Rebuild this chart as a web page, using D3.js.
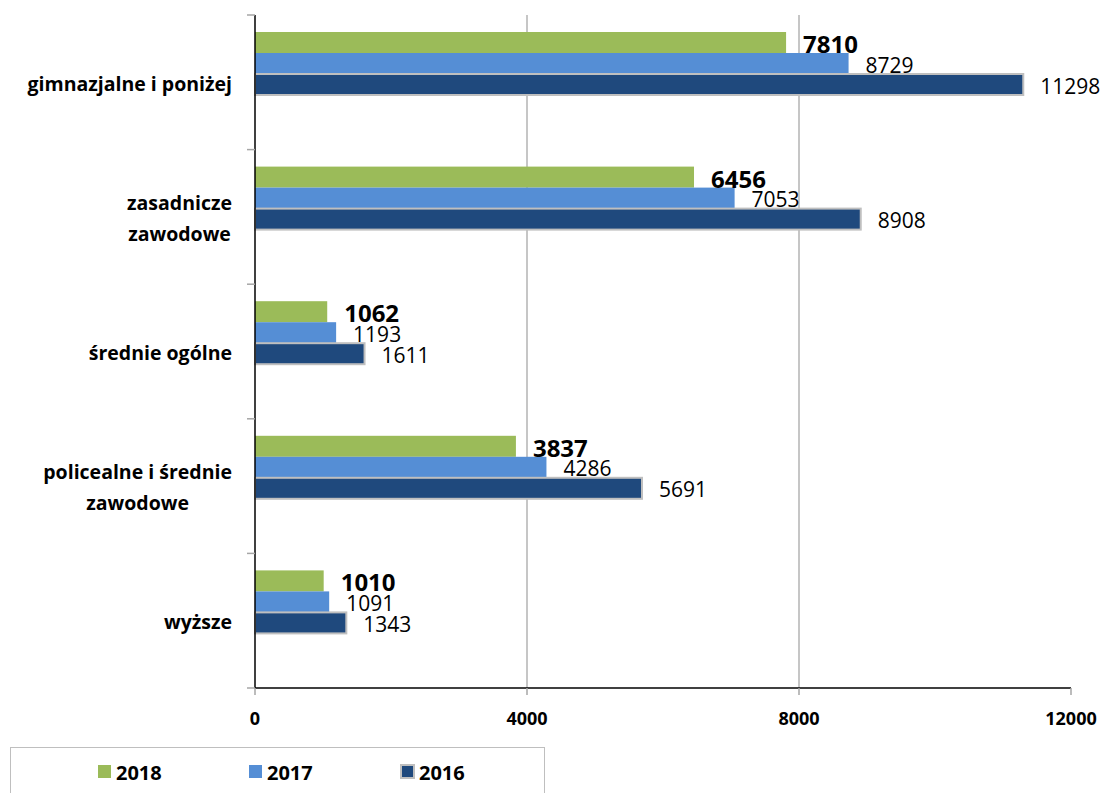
<!DOCTYPE html>
<html><head><meta charset="utf-8">
<script src="https://cdn.jsdelivr.net/npm/d3@7"></script>
<style>
body{margin:0;background:#fff;}
text{font-family:"Open Sans", sans-serif;}
</style></head>
<body>
<svg id="chart" width="1102" height="793"></svg>
<script>
const categories = [["gimnazjalne i poniżej"],["zasadnicze","zawodowe"],["średnie ogólne"],["policealne i średnie","zawodowe"],["wyższe"]];
const seriesNames = ["2018","2017","2016"];
const v2018 = [7810, 6456, 1062, 3837, 1010];
const v2017 = [8729, 7053, 1193, 4286, 1091];
const v2016 = [11298, 8908, 1611, 5691, 1343];
const xTicks = [0, 4000, 8000, 12000];
const colors = {"2018":"#9BBB59","2017":"#558ED5","2016":"#1F497D"};

const values = {"2018":v2018,"2017":v2017,"2016":v2016};
const svg = d3.select("#chart");
const catKeys = categories.map((c,i)=>i);

const x = d3.scaleLinear().domain([0,12000]).range([255,1071]);
const y = d3.scaleBand().domain(catKeys).range([15,688]).padding(0);
const yi = d3.scaleBand().domain(seriesNames).range([17,17+63]).padding(0);

// gridlines
svg.append("g").selectAll("line").data([4000,8000]).join("line")
  .attr("x1",d=>x(d)).attr("x2",d=>x(d)).attr("y1",15).attr("y2",688)
  .attr("stroke","#b3b3b3").attr("stroke-width",1.5);

// bars
const g = svg.append("g");
seriesNames.forEach(s=>{
  g.append("g").selectAll("rect").data(values[s]).join("rect")
   .attr("x",x(0)).attr("y",(d,i)=>y(i)+yi(s))
   .attr("width",d=>x(d)-x(0)).attr("height",yi.bandwidth())
   .attr("fill",colors[s])
   .attr("stroke", s==="2016" ? "#bfbfbf" : "none")
   .attr("stroke-width", s==="2016" ? 2 : 0);
});
seriesNames.slice().reverse().forEach(s=>{
  g.append("g").selectAll("text").data(values[s]).join("text")
   .attr("x",d=>x(d)+17).attr("y",(d,i)=>y(i)+yi(s)+yi.bandwidth()/2+1)
   .attr("dominant-baseline","central")
   .attr("font-size", s==="2018"?24:21)
   .attr("font-weight", s==="2018"?"bold":"normal")
   .attr("fill","#000").text(d=>d);
});

// y axis
svg.append("line").attr("x1",255).attr("x2",255).attr("y1",15).attr("y2",688).attr("stroke","#000").attr("stroke-width",1.5);
svg.append("g").selectAll("line").data(d3.range(categories.length+1)).join("line")
  .attr("x1",247).attr("x2",255)
  .attr("y1",d=>d<categories.length? y(d): y.range()[1]).attr("y2",d=>d<categories.length? y(d): y.range()[1])
  .attr("stroke","#a6a6a6").attr("stroke-width",1.5);

// x axis
svg.append("line").attr("x1",x(0)).attr("x2",x(12000)).attr("y1",688).attr("y2",688).attr("stroke","#000").attr("stroke-width",1.5);
svg.append("g").selectAll("line").data(xTicks).join("line")
  .attr("x1",d=>x(d)).attr("x2",d=>x(d)).attr("y1",688).attr("y2",695)
  .attr("stroke","#a6a6a6").attr("stroke-width",1.5);
svg.append("g").selectAll("text").data(xTicks).join("text")
  .attr("x",d=>x(d)).attr("y",718).attr("text-anchor","middle").attr("dominant-baseline","central")
  .attr("font-size",18).attr("font-weight","bold").text(d=>d);

// category labels
const lab = svg.append("g");
categories.forEach((lines,i)=>{
  const t = lab.append("text").attr("font-size",19.5).attr("font-weight","bold").attr("text-anchor","middle");
  const cy = y(i)+y.bandwidth()/2 + 1;
  const lh = 31;
  lines.forEach((ln,j)=>{
    t.append("tspan").attr("y", cy + (j-(lines.length-1)/2)*lh).attr("dominant-baseline","central").text(ln);
  });
  let maxW = 0;
  t.selectAll("tspan").each(function(){ maxW = Math.max(maxW, this.getComputedTextLength()); });
  t.selectAll("tspan").attr("x", 232 - maxW/2);
});

// legend
svg.append("rect").attr("x",10.5).attr("y",747.5).attr("width",534).attr("height",60)
  .attr("fill","none").attr("stroke","#bfbfbf").attr("stroke-width",1);
const lx = [98,249,401];
const leg = svg.append("g").selectAll("g").data(seriesNames).join("g")
  .attr("transform",(d,i)=>`translate(${lx[i]},765)`);
leg.append("rect").attr("width",13).attr("height",13).attr("fill",d=>colors[d])
  .attr("stroke",d=>d==="2016"?"#bfbfbf":"none").attr("stroke-width",2);
leg.append("text").attr("x",18).attr("y",7).attr("dominant-baseline","central")
  .attr("font-size",20).attr("font-weight","bold").text(d=>d);
</script>
</body></html>
